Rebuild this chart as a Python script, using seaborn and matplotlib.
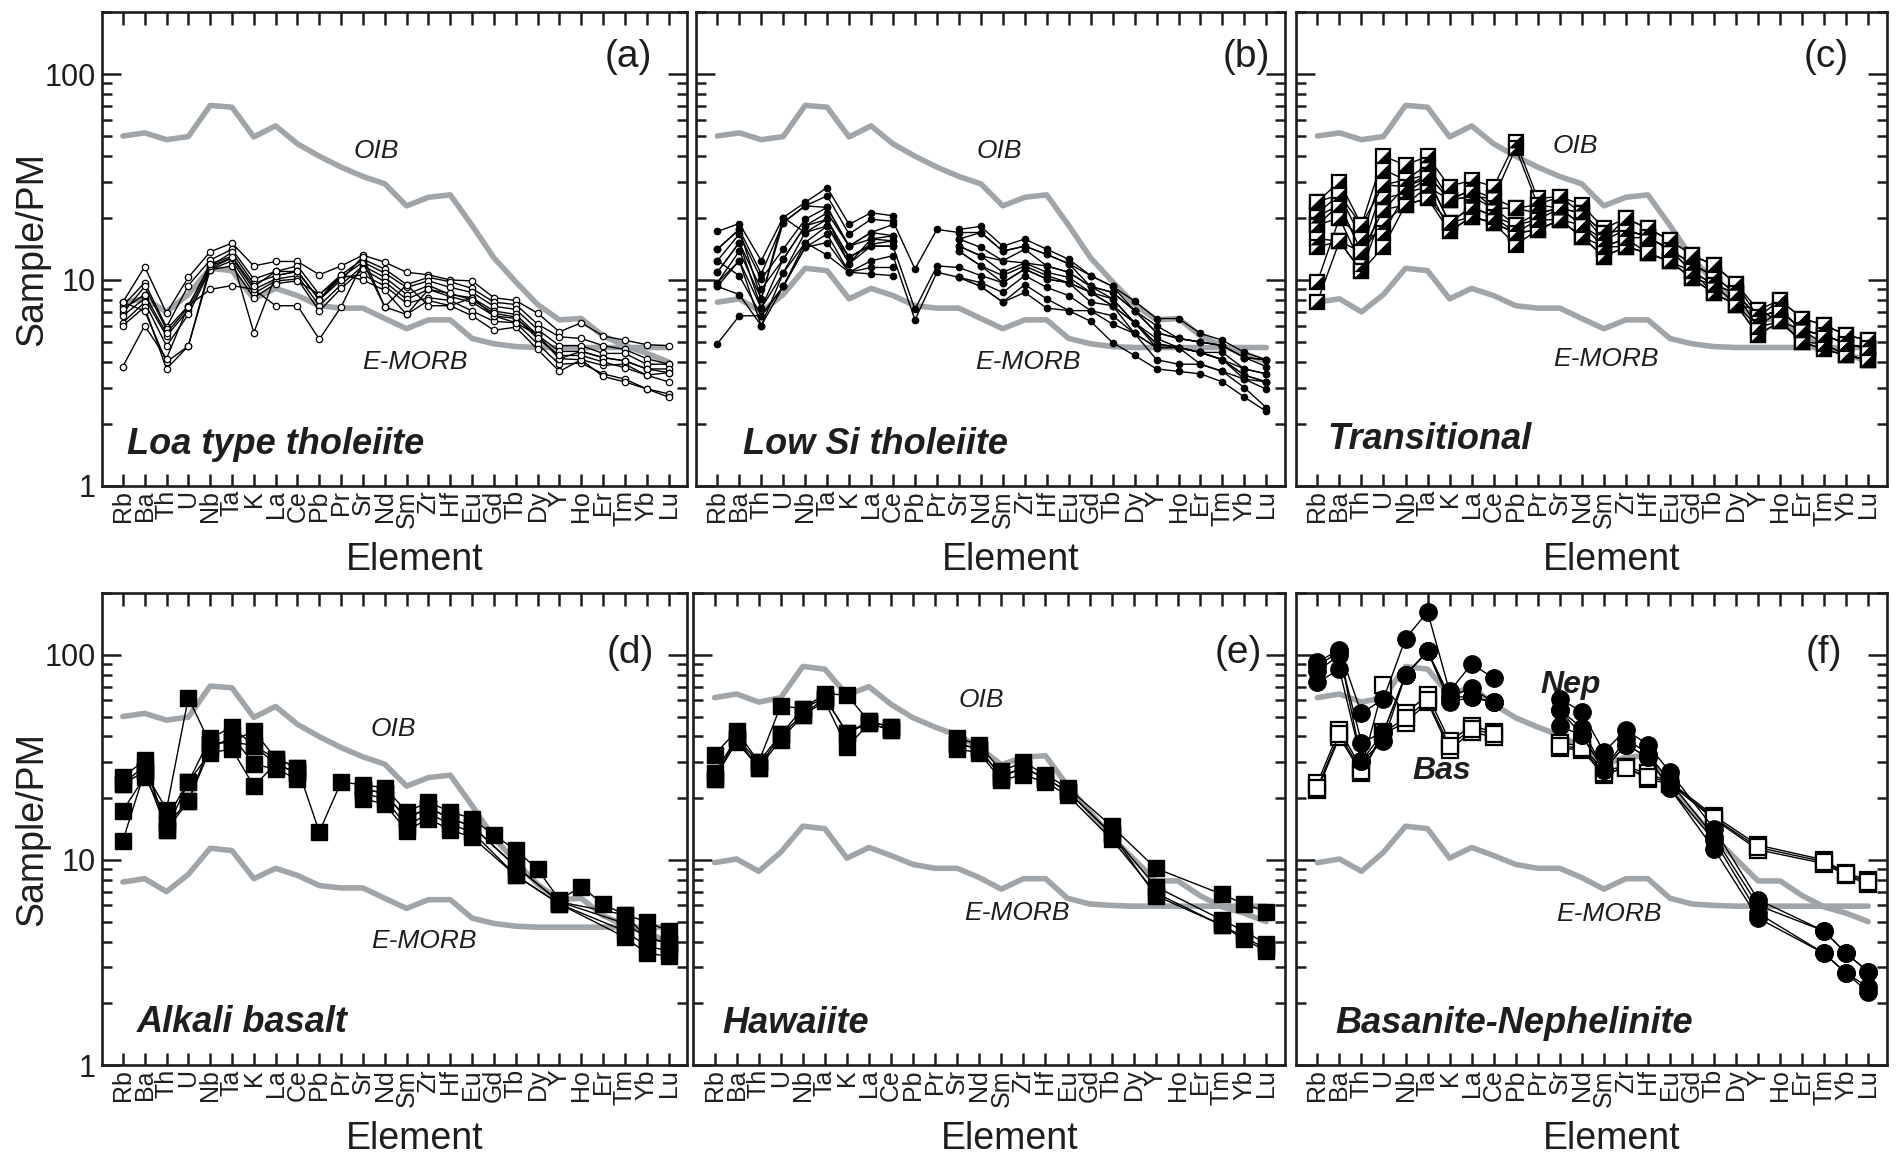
import numpy as np
import pandas as pd
import matplotlib
matplotlib.use("Agg")
import matplotlib.pyplot as plt
import seaborn as sns
from matplotlib.ticker import FixedLocator, LogLocator, NullFormatter, FuncFormatter
from matplotlib.path import Path

# ---------------- data ----------------
elements = ["Rb", "Ba", "Th", "U", "Nb", "Ta", "K", "La", "Ce", "Pb", "Pr", "Sr", "Nd",
            "Sm", "Zr", "Hf", "Eu", "Gd", "Tb", "Dy", "Y", "Ho", "Er", "Tm", "Yb", "Lu"]

# reference patterns (panels a-d)
oib = [50, 51.8, 48, 49.7, 70.4, 69, 49.5, 56, 45.8, 39.9, 35.3, 31.8, 29.3, 22.9, 25.2,
       25.9, 18.4, 12.8, 9.8, 7.6, 6.4, 6.5, 5.35, 4.8, 4.4, 4.0]
emorb = [7.8, 8.1, 7.0, 8.5, 11.4, 11.1, 8.1, 9.1, 8.4, 7.5, 7.3, 7.3, 6.5, 5.8, 6.4, 6.4,
         5.2, 4.9, 4.75, 4.7, 4.7, 4.7, 4.7, 4.7, 4.7, 4.7]
# reference patterns as drawn in panels e-f
oib_ef = [61.8, 64.4, 58.8, 61.8, 87.7, 85.1, 63.8, 69.9, 57.3, 49.3, 44.4, 40.5, 35.4, 29.1,
          31.7, 32.2, 23.0, 17.2, 12.9, 10.1, 7.9, 7.9, 6.7, 5.9, 5.5, 5.0]
emorb_ef = [9.7, 10.1, 8.8, 10.9, 14.6, 14.2, 10.2, 11.5, 10.5, 9.5, 9.1, 9.1, 8.2, 7.2, 8.1,
            8.1, 6.5, 6.1, 6.0, 5.95, 5.95, 5.95, 5.95, 5.95, 5.95, 5.95]

# (a) Loa type tholeiite
loa = [
    [7.8, 11.6, 6.9, 10.3, 13.7, 15.1, 11.7, 12.3, 12.3, 10.6, 11.7, 13.2, 12.2, 10.9, 10.6, 10.0, 9.9, 8.2, 7.95, 6.9, 5.6, 6.2, 5.35, 5.1, 4.85, 4.8],
    [7.5, 9.7, 5.9, 9.4, 12.5, 14.1, 10.1, 11.0, 11.7, 8.5, 10.6, 12.6, 11.3, 9.5, 10.3, 9.8, 9.1, 7.8, 7.6, 6.1, 5.3, 5.2, 4.8, 4.6, 4.15, 3.9],
    [6.9, 9.3, 5.75, 7.5, 11.7, 13.6, 9.6, 10.5, 11.0, 8.05, 10.3, 12.2, 10.8, 9.2, 9.9, 9.2, 8.7, 7.45, 7.2, 5.75, 4.8, 4.8, 4.4, 4.4, 3.9, 3.9],
    [6.7, 8.15, 5.34, 7.15, 11.4, 12.8, 9.0, 10.1, 10.5, 7.5, 9.5, 11.7, 10.3, 8.5, 9.4, 8.5, 8.2, 7.07, 6.8, 5.4, 4.5, 4.5, 4.2, 4.05, 3.7, 3.7],
    [6.2, 7.8, 4.78, 6.8, 11.2, 12.4, 8.6, 9.9, 10.1, 7.07, 9.1, 11.3, 9.8, 8.05, 9.0, 8.3, 7.8, 6.7, 6.5, 5.4, 4.15, 4.1, 3.85, 3.9, 3.45, 3.55],
    [6.0, 7.4, 3.7, 4.78, 11.2, 11.7, 8.2, 9.6, 9.9, 8.5, 10.3, 10.6, 9.35, 7.7, 8.2, 7.95, 7.07, 6.3, 6.2, 4.9, 3.9, 3.95, 3.5, 3.3, 2.96, 2.8],
    [7.8, 7.07, 4.0, 4.78, 11.7, 12.8, 5.55, 10.5, 11.0, 8.05, 10.6, 10.0, 8.9, 6.8, 7.95, 7.5, 6.7, 5.7, 5.9, 4.6, 3.6, 4.1, 3.4, 3.2, 2.96, 2.7],
    [3.8, 6.0, 4.15, 7.5, 9.0, 9.4, 9.0, 7.5, 7.5, 5.15, 7.4, 12.2, 7.4, 9.5, 7.5, 7.5, 8.2, 6.7, 6.2, 5.4, 4.15, 4.5, 4.2, 4.05, 3.7, 3.55],
    [7.2, 8.5, 5.5, 7.4, 12.0, 13.0, 9.3, 11.0, 11.0, 8.0, 10.0, 13.0, 7.4, 6.8, 9.0, 8.6, 8.0, 6.9, 6.6, 5.2, 4.3, 4.3, 4.0, 3.75, 3.45, 3.2],
]

# (b) Low Si tholeiite (None = not analysed)
lowsi = [
    [17.2, 18.8, 12.4, 20.1, 23.8, 28.1, 18.6, 21.2, 20.5, None, None, 17.6, 18.2, 14.6, 15.8, 14.1, 12.6, 10.5, 9.3, 7.9, 6.5, 6.5, 5.5, 5.1, 4.45, 4.1],
    [14.1, 17.6, 10.7, 19.0, 22.9, 25.6, 16.7, 19.7, 19.3, 11.3, 17.6, 17.0, 17.0, 13.8, 14.6, 13.3, 12.0, 10.5, 9.3, 7.1, 6.0, 5.2, 5.0, 4.8, 4.2, 3.8],
    [12.4, 16.7, 10.1, 14.1, 19.7, 22.5, 14.6, 17.0, 18.6, None, None, 15.8, 14.4, 12.4, 14.1, 11.7, 10.9, 9.3, 8.7, 7.1, 5.55, 5.2, 5.0, 4.8, 4.2, 4.1],
    [10.9, 15.2, 9.0, 12.6, 18.3, 21.2, 14.6, 15.8, 16.4, None, None, 14.6, 13.1, 10.9, 12.1, 10.9, 10.3, 8.7, 8.1, 6.2, 5.2, 4.7, 4.45, 4.45, 3.7, 3.5],
    [9.7, 13.8, 8.1, 20.1, 17.0, 19.7, 12.9, 14.9, 15.5, None, None, 13.8, 11.7, 10.5, 11.7, 10.5, 9.7, 8.7, 7.5, 6.2, 4.9, 4.7, 4.45, 4.1, 3.45, 3.2],
    [9.3, 12.4, 7.3, 10.8, 15.2, 18.3, 12.0, 14.6, 14.6, 7.2, 11.7, 11.5, 10.5, 9.7, 11.3, 10.1, 9.7, 7.8, 7.5, 6.2, 4.7, 4.7, 3.9, 3.6, 3.3, 2.95],
    [12.4, 10.5, 6.7, 9.3, 14.4, 16.7, 10.9, 12.4, 13.1, 6.4, 10.9, 10.3, 9.7, 8.7, 10.5, 9.2, 8.4, 7.1, 6.7, 5.5, 4.1, 3.9, 3.9, 3.6, 3.0, 2.4],
    [4.9, 6.7, 6.7, 9.3, 14.4, 15.2, 10.9, 11.5, 11.5, None, None, 10.3, 9.3, 7.8, 9.5, 8.1, 7.1, 6.3, 4.96, 4.3, 3.7, 3.6, 3.5, 3.2, 2.7, 2.3],
    [10.9, 15.2, 7.3, 12.6, 18.3, 19.7, 12.0, 15.8, 15.5, None, None, 14.6, 13.1, 12.4, 12.1, 11.7, 10.9, 9.3, 8.1, 6.2, 4.9, 4.7, 4.45, 4.1, 3.7, 3.5],
    [9.7, 12.4, 6.0, 10.8, 17.0, 18.3, 12.9, 14.6, 14.6, None, None, 13.8, 11.7, 9.7, 11.3, 10.1, 9.7, 8.7, 7.5, 5.5, 4.7, 4.7, 4.45, 4.1, 3.3, 3.2],
    [14.1, 17.6, 8.1, 19.0, 22.9, 22.5, 14.6, 17.0, 16.4, None, None, 15.8, 17.0, 13.8, 14.6, 13.3, 12.0, 9.3, 8.7, 7.1, 5.55, 5.2, 5.0, 4.8, 4.2, 4.1],
    [9.3, 8.5, 6.0, 9.3, 15.2, 13.2, 10.9, 10.7, 10.5, None, None, 10.3, 9.3, 7.8, 8.7, 7.3, 7.1, 7.1, 6.1, 5.5, 4.7, 4.7, 4.45, 4.1, 3.45, 3.2],
]

# (c) Transitional
trans = [
    [24.0, 30.0, 18.5, 39.8, 36.2, 39.8, 28.4, 30.6, 28.4, 47.0, 24.9, 25.4, 23.2, 17.8, 19.9, 17.8, 15.6, 13.2, 11.8, 9.6, 7.15, 8.0, 6.5, 6.05, 5.4, 5.1],
    [21.1, 25.9, 15.9, 34.3, 30.6, 36.2, 24.5, 27.4, 24.9, 43.7, 23.2, 25.4, 21.1, 16.9, 17.5, 16.2, 14.0, 12.0, 10.4, 8.6, 6.6, 7.15, 5.7, 5.4, 4.9, 4.65],
    [20.3, 23.2, 13.7, 29.0, 28.4, 32.4, 24.5, 25.4, 22.3, 22.3, 21.1, 22.3, 18.5, 15.6, 17.5, 16.2, 14.0, 11.0, 9.5, 8.6, 6.6, 7.15, 5.7, 5.4, 4.9, 4.65],
    [18.5, 20.0, 11.8, 24.9, 26.4, 31.2, 18.9, 22.7, 20.3, 18.5, 19.6, 22.3, 18.5, 14.5, 15.9, 13.5, 12.3, 10.2, 8.6, 7.6, 5.9, 6.3, 5.0, 4.9, 4.3, 4.1],
    [15.9, 15.4, 11.0, 21.9, 23.2, 28.4, 17.2, 20.3, 18.9, 16.9, 17.5, 19.6, 16.2, 13.0, 14.5, 13.5, 12.3, 10.2, 9.5, 7.6, 5.4, 6.3, 5.0, 4.6, 4.3, 4.1],
    [14.5, 15.4, 13.7, 18.9, 23.2, 24.9, 18.9, 20.3, 18.9, 14.8, 17.5, 19.6, 16.2, 13.0, 14.5, 13.5, 12.3, 10.2, 8.6, 7.6, 5.4, 6.3, 5.0, 4.6, 4.3, 4.1],
    [9.8, 20.0, 15.9, 16.9, 26.4, 28.4, 24.5, 25.4, 24.9, 22.3, 23.2, 22.3, 21.1, 16.9, 17.5, 16.2, 14.0, 12.0, 10.4, 8.6, 6.6, 7.15, 5.7, 5.4, 4.9, 4.65],
    [7.85, 15.4, 11.0, 14.5, 23.2, 24.9, 17.2, 20.3, 18.9, 16.9, 17.5, 19.6, 16.2, 14.5, 14.5, 13.5, 12.3, 11.0, 8.6, 7.6, 7.15, 6.3, 5.7, 4.9, 4.3, 4.1],
    [24.0, 25.9, 18.5, 29.0, 30.6, 32.4, 24.5, 27.4, 22.3, 18.5, 21.1, 22.3, 21.1, 15.6, 19.9, 17.8, 15.6, 13.2, 11.8, 9.6, 6.6, 8.0, 6.5, 6.05, 5.4, 5.1],
    [18.5, 23.2, 13.7, 21.9, 28.4, 31.2, 18.9, 22.7, 20.3, 16.9, 19.6, 19.6, 18.5, 14.5, 15.9, 16.2, 14.0, 11.0, 9.5, 8.6, 5.9, 7.15, 5.7, 5.4, 4.9, 4.65],
]

# (d) Alkali basalt
alkali = [
    [12.4, 27.0, 17.6, 61.7, 36.9, 37.6, 42.6, 31.2, 28.2, 13.7, 24.0, 23.2, 22.5, 17.2, 19.1, 17.2, 15.9, 13.2, 11.2, 9.0, 6.4, 7.4, 6.1, 5.4, 5.0, 4.5],
    [25.4, 30.6, 14.0, 24.0, 39.2, 44.4, 36.1, 29.4, 26.5, None, None, 22.2, 21.1, 15.9, 18.0, 15.9, 14.6, None, 9.3, None, 6.25, None, None, 4.9, 4.2, 3.9],
    [23.4, 28.8, 14.9, 19.3, 34.7, 40.0, 29.4, 27.6, 24.9, None, None, 21.1, 19.9, 14.6, 16.9, 14.9, 13.7, None, 8.4, None, 6.1, None, None, 4.5, 3.8, 3.6],
    [17.4, 25.4, 15.9, 24.0, 33.3, 34.7, 22.9, 29.4, 26.5, None, None, 19.9, 18.7, 13.9, 15.9, 14.0, 12.9, None, 8.4, None, 6.1, None, None, 4.2, 3.5, 3.4],
    [23.4, 27.0, 14.0, 19.3, 36.9, 37.6, 36.1, 31.2, 28.2, None, None, 22.2, 21.1, 15.9, 18.0, 15.9, 14.6, None, 9.3, None, 6.25, None, None, 5.4, 4.2, 3.9],
]

# (e) Hawaiite and (f) Basanite-Nephelinite: analysed elements only
elements_ef = ["Rb", "Ba", "Th", "U", "Nb", "Ta", "K", "La", "Ce", "Sr", "Nd", "Sm",
               "Zr", "Hf", "Eu", "Tb", "Y", "Tm", "Yb", "Lu"]
hawaiite = [
    [32.6, 42.6, 30.0, 56.4, 54.6, 64.4, 63.8, 47.3, 44.5, 39.3, 36.5, 27.1, 30.0, 26.0, 22.5, 14.6, 9.1, 6.8, 6.1, 5.6],
    [26.5, 39.3, 28.2, 40.9, 50.7, 61.8, 41.7, 46.3, 43.0, 36.9, 34.7, 25.5, 28.2, 24.9, 21.6, 13.4, 7.4, 5.1, 4.5, 3.9],
    [24.9, 37.7, 28.2, 38.5, 50.7, 59.3, 35.4, 46.3, 43.0, 34.7, 33.3, 24.5, 26.0, 23.9, 20.7, 12.6, 6.9, 4.8, 4.2, 3.7],
    [24.9, 39.3, 30.0, 40.9, 54.6, 61.8, 41.7, 47.3, 44.5, 36.9, 34.7, 25.5, 28.2, 24.9, 21.6, 13.4, 6.7, 4.8, 4.1, 3.6],
]
nephelinite = [
    [92, 106, 51.8, 61, 120, 162, 66.3, 90.2, 77, 61, 52.8, 33.6, 43.0, 36.5, 26.8, 14.2, 6.4, 4.5, 3.5, 2.85],
    [83, 100, 37.3, 42, 79.8, 104, 62.3, 69, 58.6, 54, 40.5, 27.4, 36.5, 31.6, 22.3, 11.3, 5.2, 3.5, 2.8, 2.27],
    [73.5, 84.8, 30.3, 42, 79.8, 104, 58.6, 62.3, 58.6, 44.9, 40.5, 27.4, 36.5, 31.6, 22.3, 12.5, 5.5, 3.5, 2.8, 2.4],
    [88, 104, 30.3, 38, 79.8, 104, 62.3, 62.3, 58.6, 54, 44, 27.4, 39, 33, 24, 13, 6.0, 4.5, 3.5, 2.85],
]
basanite = [
    [23.7, 43, 28, 71, 51.8, 63.6, 38, 44.9, 42.2, 37.3, 35.8, 27.4, 28.5, 26.4, 24, 16.4, 11.8, 10.0, 8.6, 8.0],
    [21.9, 39.6, 26.4, 41.3, 46.7, 58.6, 34.4, 42.2, 39.6, 35.1, 34.4, 25.8, 28.5, 24.7, 23.5, 15.8, 11.2, 9.6, 8.4, 7.6],
    [22.5, 41, 27, 42, 49, 60, 36, 43.5, 41, 36, 35, 26.5, 28, 25.5, 23.8, 16, 11.5, 9.8, 8.5, 7.8],
]


# ---------------- helpers ----------------
def long_df(samples, elems):
    """Long table; a line is broken where the unanalysed Pb-Pr gap lies."""
    rows = []
    for si, vals in enumerate(samples):
        prev = None
        seg = 0
        for e, v in zip(elems, vals):
            if v is None:
                continue
            x = elements.index(e)
            if prev is not None and any(prev < k < x for k in (9, 10)):
                seg += 1
            rows.append({"x": x, "v": v, "unit": f"{si}-{seg}"})
            prev = x
    return pd.DataFrame(rows)


def ref_df(vals):
    return pd.DataFrame({"x": np.arange(len(elements)), "v": vals})


sns.set_theme(style="ticks")
plt.rcParams["font.family"] = ["Liberation Sans", "DejaVu Sans"]
plt.rcParams["axes.linewidth"] = 1.8

INK = "#1e1e1e"
GRAY = "#a0a5a9"
fig = plt.figure(figsize=(18.97, 11.54), dpi=100)

positions = {
    "a": [0.0536, 0.5789, 0.3086, 0.4107],
    "b": [0.3669, 0.5789, 0.3105, 0.4107],
    "c": [0.6832, 0.5789, 0.3115, 0.4107],
    "d": [0.0536, 0.0771, 0.3086, 0.4090],
    "e": [0.3654, 0.0771, 0.3119, 0.4090],
    "f": [0.6832, 0.0771, 0.3115, 0.4090],
}

tri = Path([(1, -1), (1, 1), (-1, -1), (1, -1)],
           [Path.MOVETO, Path.LINETO, Path.LINETO, Path.CLOSEPOLY])


def setup_axis(ax, left_labels):
    ax.set_yscale("log")
    ax.set_ylim(1, 200)
    ax.set_xlim(-0.97, 25.85)
    ax.yaxis.set_major_locator(FixedLocator([1, 10, 100]))
    ax.yaxis.set_minor_locator(LogLocator(base=10, subs=np.arange(2, 10)))
    ax.yaxis.set_minor_formatter(NullFormatter())
    ax.yaxis.set_major_formatter(FuncFormatter(lambda v, _: f"{v:g}"))
    ax.xaxis.set_major_locator(FixedLocator(range(len(elements))))
    ax.set_xticklabels(elements, rotation=90, fontsize=18, color=INK)
    ax.tick_params(axis="both", which="both", direction="in", top=True, right=True,
                   width=1.8, color=INK)
    ax.tick_params(axis="y", which="major", length=14, labelsize=22, pad=4,
                   labelcolor=INK)
    ax.tick_params(axis="y", which="minor", length=7)
    ax.tick_params(axis="x", which="major", length=9, pad=3)
    ax.tick_params(axis="y", labelleft=left_labels)
    for s in ax.spines.values():
        s.set_linewidth(1.9)
        s.set_color(INK)
    ax.set_xlabel("Element", fontsize=27, color=INK, va="top")
    ax.xaxis.set_label_coords(0.535, -0.118)
    if left_labels:
        ax.set_ylabel("Sample/PM", fontsize=27, color=INK)
        ax.yaxis.set_label_coords(-0.087, 0.5)
    else:
        ax.set_ylabel("")


def draw_refs(ax, o, m):
    sns.lineplot(data=ref_df(o), x="x", y="v", color=GRAY, linewidth=4.0, ax=ax,
                 zorder=1, legend=False, estimator=None)
    sns.lineplot(data=ref_df(m), x="x", y="v", color=GRAY, linewidth=4.0, ax=ax,
                 zorder=1, legend=False, estimator=None)


def draw_samples(ax, df, marker, ms, face, mew=0.9, lw=1.0, z=3):
    sns.lineplot(data=df, x="x", y="v", units="unit", estimator=None, color="black",
                 linewidth=lw, marker=marker, markersize=ms, markerfacecolor=face,
                 markeredgecolor="black", markeredgewidth=mew, ax=ax, legend=False,
                 zorder=z)


def labels(ax, letter, oib_xy, emorb_xy, name, name_xy):
    ax.text(letter[0], letter[1], letter[2], transform=ax.transAxes, fontsize=28,
            ha="center", va="center", color=INK)
    if oib_xy is not None:
        ax.text(oib_xy[0], oib_xy[1], "OIB", transform=ax.transAxes, fontsize=19,
                style="italic", ha="center", va="center", color=INK)
    ax.text(emorb_xy[0], emorb_xy[1], "E-MORB", transform=ax.transAxes, fontsize=19,
            style="italic", ha="center", va="center", color=INK)
    ax.text(name_xy[0], name_xy[1], name, transform=ax.transAxes, fontsize=26,
            style="italic", fontweight="bold", ha="left", va="center", color=INK)


# (a)
ax = fig.add_axes(positions["a"])
draw_refs(ax, oib, emorb)
draw_samples(ax, long_df(loa, elements), "o", 4.6, "white", mew=0.9)
setup_axis(ax, True)
labels(ax, (0.899, 0.906, "(a)"), (0.469, 0.707), (0.535, 0.262),
       "Loa type tholeiite", (0.043, 0.087))

# (b)
ax = fig.add_axes(positions["b"])
draw_refs(ax, oib, emorb)
draw_samples(ax, long_df(lowsi, elements), "o", 4.6, "black", mew=0.9)
setup_axis(ax, False)
labels(ax, (0.934, 0.906, "(b)"), (0.515, 0.707), (0.563, 0.262),
       "Low Si tholeiite", (0.08, 0.087))

# (c)
ax = fig.add_axes(positions["c"])
draw_refs(ax, oib, emorb)
dfc = long_df(trans, elements)
draw_samples(ax, dfc, "s", 10, "white", mew=1.6)
sns.scatterplot(data=dfc, x="x", y="v", marker=tri, s=10 ** 2, color="black",
                linewidth=0, edgecolor="none", ax=ax, legend=False, zorder=4)
setup_axis(ax, False)
labels(ax, (0.898, 0.906, "(c)"), (0.472, 0.717), (0.524, 0.268),
       "Transitional", (0.053, 0.097))

# (d)
ax = fig.add_axes(positions["d"])
draw_refs(ax, oib, emorb)
draw_samples(ax, long_df(alkali, elements), "s", 11, "black", mew=1.0)
setup_axis(ax, True)
labels(ax, (0.903, 0.872, "(d)"), (0.498, 0.713), (0.55, 0.262),
       "Alkali basalt", (0.06, 0.09))

# (e)
ax = fig.add_axes(positions["e"])
draw_refs(ax, oib_ef, emorb_ef)
draw_samples(ax, long_df(hawaiite, elements_ef), "s", 11, "black", mew=1.0)
setup_axis(ax, False)
labels(ax, (0.922, 0.872, "(e)"), (0.487, 0.774), (0.548, 0.323),
       "Hawaiite", (0.049, 0.087))

# (f)
ax = fig.add_axes(positions["f"])
draw_refs(ax, oib_ef, emorb_ef)
draw_samples(ax, long_df(basanite, elements_ef), "s", 11, "white", mew=1.6, z=3)
draw_samples(ax, long_df(nephelinite, elements_ef), "o", 12.5, "black", mew=1.0, z=4)
setup_axis(ax, False)
labels(ax, (0.894, 0.872, "(f)"), None, (0.53, 0.32),
       "Basanite-Nephelinite", (0.067, 0.087))
ax.text(0.464, 0.805, "Nep", transform=ax.transAxes, fontsize=23, style="italic",
        fontweight="bold", ha="center", va="center", color=INK)
ax.text(0.247, 0.623, "Bas", transform=ax.transAxes, fontsize=23, style="italic",
        fontweight="bold", ha="center", va="center", color=INK)

fig.savefig("out.png", dpi=100)
